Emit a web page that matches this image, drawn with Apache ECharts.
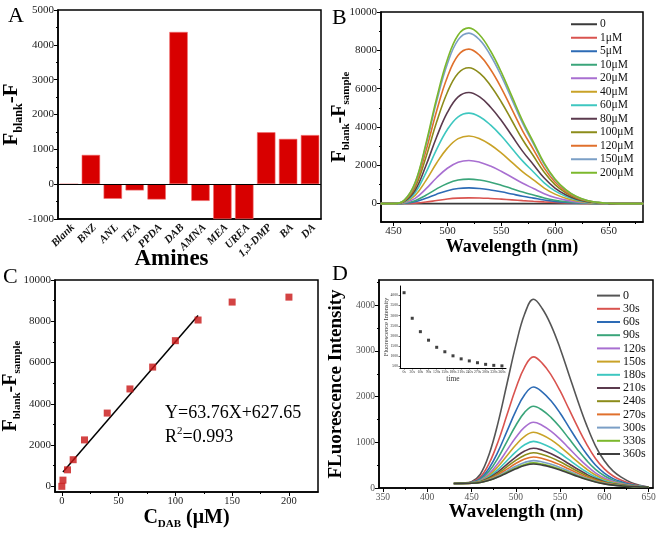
<!DOCTYPE html>
<html>
<head>
<meta charset="utf-8">
<script src="https://cdn.jsdelivr.net/npm/echarts@6.0.0/dist/echarts.min.js"></script>
<style>html,body{margin:0;padding:0;background:#fff}#chart{width:661px;height:534px}</style>
</head>
<body>
<div id="chart"></div>
<script>
// ---------- Panel A ----------
const categoriesA = ['Blank','BNZ','ANL','TEA','PPDA','DAB','AMNA','MEA','UREA','1,3-DMP','BA','DA'];
const valuesA = [0, 840, -420, -180, -440, 4370, -480, -1000, -1000, 1490, 1300, 1410];
const ticksAy = [-1000, 0, 1000, 2000, 3000, 4000, 5000];

// ---------- Panel B ----------
const wavelengthB = [438, 450, 460, 470, 480, 490, 500, 510, 520, 530, 540, 550, 560, 570, 580, 590, 600, 610, 620, 630, 640, 650, 660, 670, 682];
const namesB = ['0','1μM','5μM','10μM','20μM','40μM','60μM','80μM','100μM','120μM','150μM','200μM'];
const b0   = [0,0,0,0,0,0,0,0,0,0,0,0,0,0,0,0,0,0,0,0,0,0,0,0,0];
const b1   = [0,0,5,25,80,160,240,285,300,295,270,235,195,155,120,90,65,40,20,8,3,0,0,0,0];
const b5   = [0,0,16,98,279,492,672,787,820,787,713,615,500,385,287,189,115,66,33,15,6,2,0,0,0];
const b10  = [0,0,26,154,435,768,1050,1229,1280,1229,1114,960,781,602,448,294,179,102,51,23,9,3,0,0,0];
const b20  = [0,0,45,270,765,1350,1845,2160,2250,2160,1958,1688,1373,1058,788,518,315,180,90,41,16,5,0,0,0];
const b40  = [0,0,71,424,1200,2118,2895,3389,3530,3389,3071,2648,2153,1659,1236,812,494,282,141,64,25,7,0,0,0];
const b60  = [0,0,94,566,1605,2832,3870,4531,4720,4531,4106,3540,2879,2218,1652,1086,661,378,189,85,33,9,0,0,0];
const b80  = [0,0,116,696,1972,3480,4756,5568,5800,5568,5046,4350,3538,2726,2030,1334,812,464,232,104,41,12,0,0,0];
const b100 = [0,0,142,851,2411,4254,5814,6806,7090,6806,6168,5318,4325,3332,2482,1631,993,567,284,128,50,14,0,0,0];
const b120 = [0,0,161,967,2740,4836,6609,7738,8060,7738,7012,6045,4917,3788,2821,1854,1128,645,322,145,56,16,0,0,0];
const b150 = [0,0,178,1068,3026,5340,7298,8544,8900,8544,7743,6675,5429,4183,3115,2047,1246,712,356,160,62,18,0,0,0];
const b200 = [0,0,183,1100,3118,5502,7519,8803,9170,8803,7978,6878,5594,4310,3210,2109,1284,734,367,165,64,18,0,0,0];
const curvesB = [b0,b1,b5,b10,b20,b40,b60,b80,b100,b120,b150,b200];
const colorsB = ['#3a3a3a','#d9534f','#2d6bb5','#3aa57a','#a86fd1','#c9a227','#3ec7c0','#5b3a4e','#8c8c1a','#e0702c','#7b9fc6','#7cb82c'];
const ticksBx = [450, 500, 550, 600, 650];
const ticksBy = [0, 2000, 4000, 6000, 8000, 10000];

// ---------- Panel C ----------
const concC = [0, 1, 5, 10, 20, 40, 60, 80, 100, 120, 150, 200];
const respC = [0, 300, 800, 1290, 2250, 3550, 4720, 5780, 7060, 8060, 8930, 9170];
const fitX = [1, 120];
const fitY = [691, 8279];
const ticksCx = [0, 50, 100, 150, 200];
const ticksCy = [0, 2000, 4000, 6000, 8000, 10000];

// ---------- Panel D ----------
const wavelengthD = [430, 440, 450, 460, 470, 480, 490, 500, 510, 520, 530, 540, 550, 560, 570, 580, 590, 600, 610, 620, 630, 640, 650];
const namesD = ['0 ','30s','60s','90s','120s','150s','180s','210s','240s','270s','300s','330s','360s'];
const d0   = [100,108,140,302,745,1430,2276,3123,3808,4130,3925,3555,3061,2486,1911,1376,924,595,369,226,123,61,20];
const d30  = [100,106,128,239,543,1014,1596,2178,2648,2870,2728,2471,2129,1730,1331,961,647,419,262,163,91,49,20];
const d60  = [100,104,121,206,438,796,1239,1683,2041,2210,2101,1903,1641,1334,1027,743,502,327,206,130,75,42,20];
const d90  = [100,103,117,185,370,658,1013,1368,1655,1790,1702,1542,1330,1082,834,604,409,268,170,109,64,38,20];
const d120 = [100,103,113,167,314,542,824,1105,1333,1440,1369,1241,1071,872,673,489,332,219,141,91,56,34,20];
const d150 = [100,102,111,156,279,470,705,940,1130,1220,1160,1052,908,740,572,416,284,188,122,80,50,32,20];
const d180 = [100,102,109,146,247,404,597,790,946,1020,970,880,760,620,480,350,240,160,105,70,45,30,20];
const d210 = [100,102,108,139,223,354,516,678,808,870,828,751,649,530,411,301,207,139,92,63,41,29,20];
const d240 = [100,101,107,134,207,321,462,603,716,770,733,665,575,470,365,268,185,125,84,58,39,28,20];
const d270 = [100,101,106,129,193,291,413,535,634,680,647,588,508,416,324,238,165,112,76,53,37,27,20];
const d300 = [100,101,105,125,180,265,370,475,560,600,571,519,449,368,287,211,148,101,69,49,35,26,20];
const d330 = [100,101,105,123,172,249,343,438,514,550,524,476,412,338,264,195,137,94,65,47,33,25,20];
const d360 = [100,101,104,121,168,240,330,419,491,525,500,454,394,323,252,187,131,91,63,45,33,25,20];
const curvesD = [d0,d30,d60,d90,d120,d150,d180,d210,d240,d270,d300,d330,d360];
const colorsD = ['#555555','#d9534f','#2d6bb5','#3aa57a','#a86fd1','#c9a227','#3ec7c0','#5b3a4e','#8c8c1a','#e0702c','#7b9fc6','#7cb82c','#3f3f3f'];
const ticksDx = [350, 400, 450, 500, 550, 600, 650];
const ticksDy = [0, 1000, 2000, 3000, 4000];

// ---------- Inset ----------
const timeInset = ['0s','30s','60s','90s','120s','150s','180s','210s','240s','270s','300s','330s','360s'];
const intensityInset = [4130, 2870, 2210, 1790, 1440, 1220, 1020, 870, 770, 680, 600, 550, 525];
const ticksInsetY = [500, 1000, 1500, 2000, 2500, 3000, 3500, 4000];

const FONT = 'Liberation Serif';
function richA(size, sub) {
  return {
    b: {fontFamily: FONT, fontWeight: 'bold', fontSize: size, lineHeight: size, verticalAlign: 'top', color: '#000'},
    s: {fontFamily: FONT, fontWeight: 'bold', fontSize: sub, lineHeight: sub, padding: [Math.round(size*0.55),0,0,0], verticalAlign: 'top', color: '#000'}
  };
}
const plain = v => String(v);

function valAxis(o) {
  return {
    type: 'value', gridIndex: o.g, min: o.min, max: o.max, position: o.pos,
    axisLine: {show: true, onZero: false, lineStyle: {color: '#000', width: 1.5}},
    axisTick: {show: true, inside: false, length: o.tl || 4, customValues: o.ticks, lineStyle: {color: '#000', width: 1}},
    axisLabel: {show: true, customValues: o.ticks, formatter: plain, fontFamily: FONT, fontSize: o.fs || 11, color: o.lc || '#222', margin: o.margin || 4},
    splitLine: {show: false},
    name: o.name || '', nameLocation: 'middle', nameGap: o.nameGap || 20, nameMoveOverlap: false, nameTextStyle: o.nameStyle || {}
  };
}
function minorAxis(g, min, max, pos, ticks) {
  return {
    type: 'value', gridIndex: g, min: min, max: max, position: pos,
    axisLine: {show: false, onZero: false},
    axisTick: {show: true, inside: false, length: 2, customValues: ticks, lineStyle: {color: '#000', width: 1}},
    axisLabel: {show: false}, splitLine: {show: false}
  };
}
function pairs(xs, ys) { return xs.map((x, i) => [x, ys[i]]); }

const gridStyle = {show: true, borderColor: '#000', borderWidth: 1.5, backgroundColor: 'transparent'};

const series = [];
series.push({
  type: 'bar', xAxisIndex: 0, yAxisIndex: 0, data: valuesA, barCategoryGap: '16%',
  itemStyle: {color: '#d80000', borderColor: '#f07070', borderWidth: 0.6},
  markLine: {silent: true, symbol: 'none', label: {show: false}, lineStyle: {color: '#000', width: 1.2, type: 'solid'}, data: [{yAxis: 0}]}
});
curvesB.forEach((c, i) => series.push({
  type: 'line', name: namesB[i], xAxisIndex: 1, yAxisIndex: 2, data: pairs(wavelengthB, c),
  smooth: 0.4, showSymbol: false, symbol: 'none',
  lineStyle: {color: colorsB[i], width: 1.6}, itemStyle: {color: colorsB[i]}
}));
series.push({
  type: 'line', name: 'fit', xAxisIndex: 3, yAxisIndex: 4, data: pairs(fitX, fitY),
  symbol: 'none', lineStyle: {color: '#000', width: 1.5}, z: 2
});
series.push({
  type: 'scatter', name: 'points', xAxisIndex: 3, yAxisIndex: 4, data: pairs(concC, respC),
  symbol: 'rect', symbolSize: 7, itemStyle: {color: '#c81414'}, z: 3
});
curvesD.forEach((c, i) => series.push({
  type: 'line', name: namesD[i], xAxisIndex: 5, yAxisIndex: 6, data: pairs(wavelengthD, c),
  smooth: 0.4, showSymbol: false, symbol: 'none',
  lineStyle: {color: colorsD[i], width: 1.6}, itemStyle: {color: colorsD[i]}
}));
series.push({
  type: 'scatter', name: 'inset', xAxisIndex: 7, yAxisIndex: 8, data: intensityInset,
  symbol: 'rect', symbolSize: 3, itemStyle: {color: '#111'}
});

const option = {
  animation: false,
  backgroundColor: '#fff',
  grid: [
    Object.assign({left: 57, top: 10, width: 264, height: 209}, gridStyle),
    Object.assign({left: 381, top: 12, width: 262, height: 210}, gridStyle),
    Object.assign({left: 55, top: 280, width: 263, height: 212}, gridStyle),
    Object.assign({left: 379, top: 280, width: 274, height: 208}, gridStyle),
    {left: 400, top: 286, width: 106, height: 82, show: false}
  ],
  xAxis: [
    {type: 'category', gridIndex: 0, data: categoriesA, position: 'bottom',
     axisLine: {onZero: false, lineStyle: {color: '#000', width: 1.5}}, axisTick: {show: false},
     axisLabel: {rotate: 45, interval: 0, fontFamily: FONT, fontStyle: 'italic', fontWeight: 'bold', fontSize: 11, color: '#111', margin: 3, verticalAlign: 'top'},
     name: 'Amines', nameLocation: 'middle', nameGap: 29, nameMoveOverlap: false,
     nameTextStyle: {fontFamily: FONT, fontWeight: 'bold', fontSize: 23, color: '#000', padding: [0, 36, 0, 0]}},
    valAxis({g: 1, min: 438.3, max: 681.8, pos: 'bottom', ticks: ticksBx, name: 'Wavelength (nm)', nameGap: 16,
      nameStyle: {fontFamily: FONT, fontWeight: 'bold', fontSize: 18, color: '#000'}}),
    minorAxis(1, 438.3, 681.8, 'bottom', [475, 525, 575, 625, 675]),
    valAxis({g: 2, min: -6, max: 225.6, pos: 'bottom', ticks: ticksCx, fs: 10.5, name: '{b|C}{s|DAB}{b| (μM)}', nameGap: 16,
      nameStyle: {rich: richA(20, 11)}}),
    minorAxis(2, -6, 225.6, 'bottom', [25, 75, 125, 175]),
    valAxis({g: 3, min: 345.5, max: 655, pos: 'bottom', ticks: ticksDx, fs: 9.5, lc: '#555', name: 'Wavelength (nn)', nameGap: 15,
      nameStyle: {fontFamily: FONT, fontWeight: 'bold', fontSize: 19, color: '#000'}}),
    minorAxis(3, 345.5, 655, 'bottom', [375, 425, 475, 525, 575, 625]),
    {type: 'category', gridIndex: 4, data: timeInset, position: 'bottom',
     axisLine: {onZero: false, lineStyle: {color: '#000', width: 1}}, axisTick: {show: true, length: 1.5, alignWithLabel: true, lineStyle: {color: '#000', width: 0.6}},
     axisLabel: {interval: 0, fontFamily: FONT, fontSize: 3.8, color: '#333', margin: 2},
     name: 'time', nameLocation: 'middle', nameGap: 7, nameMoveOverlap: false,
     nameTextStyle: {fontFamily: FONT, fontSize: 7.5, color: '#333'}}
  ],
  yAxis: [
    valAxis({g: 0, min: -1000, max: 5000, pos: 'left', ticks: ticksAy, name: '{b|F}{s|blank}{b|-F}', nameGap: 36,
      nameStyle: {rich: richA(21, 12)}}),
    minorAxis(0, -1000, 5000, 'left', [-500, 500, 1500, 2500, 3500, 4500]),
    valAxis({g: 1, min: -960, max: 10000, pos: 'left', ticks: ticksBy, name: '{b|F}{s|blank}{b|-F}{s|sample}', nameGap: 31,
      nameStyle: {rich: richA(20, 11)}}),
    minorAxis(1, -960, 10000, 'left', [1000, 3000, 5000, 7000, 9000]),
    valAxis({g: 2, min: -275, max: 10000, pos: 'left', ticks: ticksCy, name: '{b|F}{s|blank}{b|-F}{s|sample}', nameGap: 34,
      nameStyle: {rich: richA(20, 11)}}),
    minorAxis(2, -275, 10000, 'left', [1000, 3000, 5000, 7000, 9000]),
    valAxis({g: 3, min: 0, max: 4553, pos: 'left', ticks: ticksDy, fs: 9.5, lc: '#555', name: 'FLuorescence Intensity', nameGap: 33,
      nameStyle: {fontFamily: FONT, fontWeight: 'bold', fontSize: 19, color: '#000'}}),
    minorAxis(3, 0, 4553, 'left', [500, 1500, 2500, 3500, 4500]),
    {type: 'value', gridIndex: 4, min: 420, max: 4460, position: 'left',
     axisLine: {show: true, onZero: false, lineStyle: {color: '#000', width: 1}},
     axisTick: {show: true, length: 1.5, customValues: ticksInsetY, lineStyle: {color: '#000', width: 0.6}},
     axisLabel: {customValues: ticksInsetY, formatter: plain, fontFamily: FONT, fontSize: 3.8, color: '#333', margin: 2},
     splitLine: {show: false},
     name: 'Fluorescence Intensity', nameLocation: 'middle', nameGap: 10, nameMoveOverlap: false,
     nameTextStyle: {fontFamily: FONT, fontSize: 6.5, color: '#333'}}
  ],
  legend: [
    {data: namesB, orient: 'vertical', left: 571, top: 17.5, icon: 'rect', itemWidth: 26, itemHeight: 2, itemGap: 0,
     padding: 0, selectedMode: false,
     textStyle: {fontFamily: FONT, fontSize: 11.5, lineHeight: 13.5, color: '#111', padding: [0,0,0,-2]}},
    {data: namesD, orient: 'vertical', left: 597, top: 289, icon: 'rect', itemWidth: 23, itemHeight: 2, itemGap: 0,
     padding: 0, selectedMode: false,
     textStyle: {fontFamily: FONT, fontSize: 12, lineHeight: 13.2, color: '#111', padding: [0,0,0,-2]}}
  ],
  graphic: [
    {type: 'text', left: 8, top: 5, style: {text: 'A', font: '22px "Liberation Serif"', fill: '#000'}},
    {type: 'text', left: 332, top: 7, style: {text: 'B', font: '22px "Liberation Serif"', fill: '#000'}},
    {type: 'text', left: 3, top: 266, style: {text: 'C', font: '22px "Liberation Serif"', fill: '#000'}},
    {type: 'text', left: 332, top: 263, style: {text: 'D', font: '22px "Liberation Serif"', fill: '#000'}},
    {type: 'text', left: 165, top: 404, style: {text: 'Y=63.76X+627.65', font: '18px "Liberation Serif"', fill: '#000'}},
    {type: 'text', left: 165, top: 426, style: {
      text: '{t|R}{p|2}{t|=0.993}',
      rich: {
        t: {fontFamily: FONT, fontSize: 18, lineHeight: 20, verticalAlign: 'bottom', fill: '#000', color: '#000'},
        p: {fontFamily: FONT, fontSize: 11, lineHeight: 11, verticalAlign: 'top', fill: '#000', color: '#000'}
      }}}
  ],
  series: series
};

const chart = echarts.init(document.getElementById('chart'), null, {renderer: 'canvas'});
chart.setOption(option);
</script>
</body>
</html>
